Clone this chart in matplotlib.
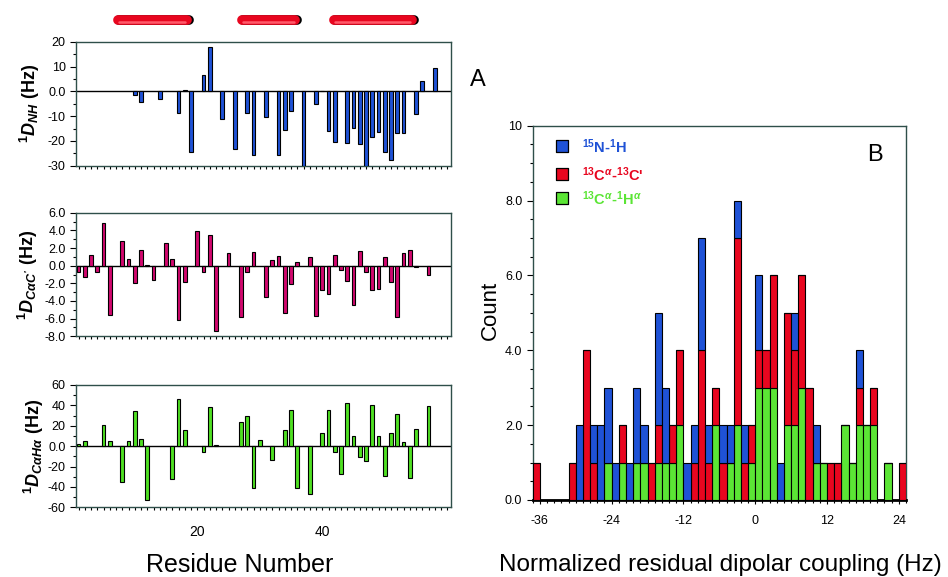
import numpy as np
import matplotlib
matplotlib.use("Agg")
import matplotlib.pyplot as plt
from matplotlib.ticker import MultipleLocator, FixedLocator, FuncFormatter
import matplotlib.transforms as mtransforms

plt.rcParams['font.family'] = ['Liberation Sans', 'DejaVu Sans']
plt.rcParams['mathtext.fontset'] = 'custom'
plt.rcParams['mathtext.rm'] = 'Liberation Sans:bold'
plt.rcParams['mathtext.it'] = 'Liberation Sans:italic:bold'
plt.rcParams['mathtext.bf'] = 'Liberation Sans:bold'
plt.rcParams['axes.unicode_minus'] = False

# ---------------- data ----------------
# panel A: residual dipolar couplings per residue
nh_res = [10, 11, 14, 17, 18, 19, 21, 22, 24, 26, 28, 29, 31, 33, 34, 35, 37, 39, 40,
          41, 42, 44, 45, 46, 47, 48, 49, 50, 51, 52, 53, 55, 56, 58]
nh_val = [-1.5, -4.4, -3.2, -8.7, 0.7, -24.4, 6.6, 17.9, -11.1, -23.2, -8.7, -25.8, -10.2,
          -25.8, -15.6, -8.1, -30.0, -5.2, 0.3, -16.1, -20.4, -20.7, -14.8, -21.1, -30.0,
          -18.5, -16.6, -24.6, -27.8, -16.9, -16.9, -9.1, 4.3, 9.4]

cac_res = [1, 2, 3, 4, 5, 6, 8, 9, 10, 11, 12, 13, 15, 16, 17, 18, 20, 21, 22, 23, 25, 27,
           28, 29, 31, 32, 33, 34, 35, 36, 38, 39, 40, 41, 42, 43, 44, 45, 46, 47, 48, 49,
           50, 51, 52, 53, 54, 55, 57]
cac_val = [-0.7, -1.3, 1.2, -0.7, 4.8, -5.6, 2.8, 0.7, -2.0, 1.8, 0.1, -1.6, 2.6, 0.7,
           -6.2, -1.8, 3.9, -0.7, 3.5, -7.4, 1.4, -5.8, -0.7, 1.5, -3.5, 0.6, 1.1, -5.4,
           -2.1, 0.4, 1.0, -5.7, -2.7, -3.2, 1.2, -0.5, -1.7, -4.5, 1.7, -0.7, -2.8, -2.6,
           1.0, -1.9, -5.8, 1.4, 1.8, -0.1, -1.1]

caha_res = [1, 2, 5, 6, 8, 9, 10, 11, 12, 16, 17, 18, 21, 22, 23, 27, 28, 29, 30, 32, 34,
            35, 36, 38, 40, 41, 42, 43, 44, 45, 46, 47, 48, 49, 50, 51, 52, 53, 54, 55, 57]
caha_val = [2, 5, 21, 5, -35, 5, 34, 7, -53, -32, 46, 16, -6, 38, 1, 24, 30, -41, 6, -14,
            16, 35, -41, -47, 13, 35, -6, -27, 42, 10, -11, -15, 40, 10, -29, 13, 32, 4,
            -31, 17, 39]

# helix positions (residue ranges)
helix_start = [6.6, 26.4, 41.2]
helix_end = [19.1, 36.4, 55.0]

# panel B: histogram counts, 1.2 Hz bins starting at -37.2 Hz
bin_width = 1.2
bin_start = -37.2
cnt_nh = [0, 0, 0, 0, 0, 0, 2, 0, 1, 2, 2, 1, 0, 1, 2, 1, 0, 3, 2, 0, 0, 1, 1, 3, 1, 0,
          1, 1, 1, 1, 0, 2, 0, 0, 1, 0, 1, 0, 0, 1, 0, 0, 0, 0, 0, 1, 0, 0, 0, 0, 0, 0]
cnt_cac = [1, 0, 0, 0, 0, 1, 0, 4, 1, 0, 0, 0, 1, 0, 0, 0, 1, 1, 0, 1, 2, 0, 1, 4, 1, 1,
           1, 0, 5, 1, 1, 1, 1, 3, 0, 3, 2, 3, 3, 0, 0, 1, 1, 0, 0, 1, 0, 1, 0, 0, 0, 1]
cnt_caha = [0, 0, 0, 0, 0, 0, 0, 0, 0, 0, 1, 0, 1, 0, 1, 1, 0, 1, 1, 1, 2, 0, 0, 0, 0, 2,
            0, 1, 2, 0, 1, 3, 3, 3, 0, 2, 2, 3, 0, 1, 1, 0, 0, 2, 1, 2, 2, 2, 0, 1, 0, 0]

legend_labels = [r'$^{15}$N-$^{1}$H', r"$^{13}$C$^{\alpha}$-$^{13}$C'", r'$^{13}$C$^{\alpha}$-$^{1}$H$^{\alpha}$']

# ---------------- style ----------------
c_blue = '#1f52d6'
c_red = '#e8061f'
c_green = '#5be535'
c_mag = '#d1086e'
c_green2 = '#4fe022'
spine_c = '#2f4f4a'

W, H = 948, 577
fig = plt.figure(figsize=(W / 100, H / 100), dpi=100)


def fbox(l, t, r, b):
    return [l / W, 1 - b / H, (r - l) / W, (b - t) / H]


def style_axes(ax):
    for s in ax.spines.values():
        s.set_color(spine_c)
        s.set_linewidth(1.0)
    ax.tick_params(axis='both', which='both', direction='out', labelsize=9,
                   colors='black', width=0.8)
    ax.tick_params(axis='both', which='major', length=4)
    ax.tick_params(axis='both', which='minor', length=2.5)


xlim_res = (0.6, 60.6)
bw = 0.62

# ----- top panel -----
ax1 = fig.add_axes(fbox(76, 41.7, 451, 165.7))
ax1.bar(nh_res, nh_val, width=bw, color=c_blue, edgecolor='black', linewidth=0.8, zorder=3)
ax1.axhline(0, color='black', lw=1.0, zorder=2)
ax1.set_xlim(*xlim_res)
ax1.set_ylim(-30, 20)
ax1.yaxis.set_major_locator(MultipleLocator(10))
ax1.yaxis.set_minor_locator(MultipleLocator(5))
ax1.yaxis.set_major_formatter(FuncFormatter(lambda v, p: '0.0' if abs(v) < 1e-9 else '%d' % v))
ax1.xaxis.set_major_locator(FixedLocator([]))
ax1.xaxis.set_minor_locator(MultipleLocator(1))
style_axes(ax1)
ax1.set_ylabel(r'$^1D_{NH}$ (Hz)', fontsize=13, fontweight='bold', labelpad=4)

# helices
trans = mtransforms.blended_transform_factory(ax1.transData, ax1.transAxes)
for s, e in zip(helix_start, helix_end):
    ax1.plot([s + 0.9, e - 0.4], [1.172, 1.172], transform=trans, color='black', lw=7,
             solid_capstyle='round', clip_on=False, zorder=5)
    ax1.plot([s + 0.7, e - 0.7], [1.172, 1.172], transform=trans, color=c_red, lw=7,
             solid_capstyle='round', clip_on=False, zorder=6)
    ax1.plot([s + 0.9, e - 1.0], [1.162, 1.162], transform=trans, color='#ff5a6a', lw=1.8,
             solid_capstyle='round', clip_on=False, zorder=7)

# ----- middle panel -----
ax2 = fig.add_axes(fbox(76, 212.7, 451, 336.3))
ax2.bar(cac_res, cac_val, width=bw, color=c_mag, edgecolor='black', linewidth=0.8, zorder=3)
ax2.axhline(0, color='black', lw=1.0, zorder=2)
ax2.set_xlim(*xlim_res)
ax2.set_ylim(-8, 6)
ax2.yaxis.set_major_locator(MultipleLocator(2))
ax2.yaxis.set_minor_locator(MultipleLocator(1))
ax2.yaxis.set_major_formatter(FuncFormatter(lambda v, p: '%.1f' % (0.0 if abs(v) < 1e-9 else v)))
ax2.xaxis.set_major_locator(FixedLocator([]))
ax2.xaxis.set_minor_locator(MultipleLocator(1))
style_axes(ax2)
ax2.set_ylabel(r"$^1D_{C\alpha C'}$ (Hz)", fontsize=13, fontweight='bold', labelpad=3)

# ----- bottom panel -----
ax3 = fig.add_axes(fbox(76, 385, 451, 507.3))
ax3.bar(caha_res, caha_val, width=bw, color=c_green2, edgecolor='black', linewidth=0.8, zorder=3)
ax3.axhline(0, color='black', lw=1.0, zorder=2)
ax3.set_xlim(*xlim_res)
ax3.set_ylim(-60, 60)
ax3.yaxis.set_major_locator(MultipleLocator(20))
ax3.yaxis.set_minor_locator(MultipleLocator(10))
ax3.yaxis.set_major_formatter(FuncFormatter(lambda v, p: '0.0' if abs(v) < 1e-9 else '%d' % v))
ax3.xaxis.set_major_locator(FixedLocator([20, 40]))
ax3.xaxis.set_minor_locator(MultipleLocator(1))
style_axes(ax3)
ax3.tick_params(axis='x', which='major', length=2.5, pad=10, labelsize=10)
ax3.set_ylabel(r'$^1D_{C\alpha H\alpha}$ (Hz)', fontsize=13, fontweight='bold', labelpad=1)

fig.text(240 / W, 1 - 565 / H, 'Residue Number', fontsize=18, ha='center', va='center')
fig.text(470 / W, 1 - 80 / H, 'A', fontsize=17, ha='left', va='center')

# ----- histogram -----
axh = fig.add_axes(fbox(532.7, 125.7, 906, 500))
n = len(cnt_nh)
left = bin_start + bin_width * np.arange(n)
g = np.array(cnt_caha)
r = np.array(cnt_cac)
b = np.array(cnt_nh)
kw = dict(width=bin_width, align='edge', edgecolor='black', linewidth=0.8, zorder=3)
axh.bar(left, g, color=c_green, **kw)
axh.bar(left, r, bottom=g, color=c_red, **kw)
axh.bar(left, b, bottom=g + r, color=c_blue, **kw)
axh.set_xlim(bin_start, bin_start + bin_width * n)
axh.set_ylim(0, 10)
axh.yaxis.set_major_locator(MultipleLocator(2))
axh.yaxis.set_minor_locator(MultipleLocator(0.5))
axh.yaxis.set_major_formatter(FuncFormatter(lambda v, p: '10' if v >= 9.9 else '%.1f' % v))
axh.xaxis.set_major_locator(FixedLocator([-36, -24, -12, 0, 12, 24]))
axh.xaxis.set_minor_locator(MultipleLocator(1.2, offset=0))
style_axes(axh)
axh.spines['bottom'].set_linewidth(2.0)
axh.spines['bottom'].set_color('black')
axh.tick_params(axis='x', which='major', length=3, pad=8)
fig.text(720 / W, 1 - 565 / H, 'Normalized residual dipolar coupling (Hz)', fontsize=17.5,
         ha='center', va='center')
fig.text(490 / W, 1 - 310 / H, 'Count', fontsize=16, rotation=90, ha='center', va='center')
axh.text(0.917, 0.922, 'B', transform=axh.transAxes, fontsize=17, ha='center', va='center')

# legend
for y, lab, col in zip([0.946, 0.871, 0.807], legend_labels, [c_blue, c_red, c_green]):
    axh.scatter([0.078], [y], marker='s', s=80, color=col, edgecolor='black', lw=0.9,
                transform=axh.transAxes, zorder=5, clip_on=False)
    axh.text(0.132, y - 0.003, lab, transform=axh.transAxes, color=col, fontsize=10.5,
             fontweight='bold', ha='left', va='center')

fig.savefig('out.png', dpi=100)
